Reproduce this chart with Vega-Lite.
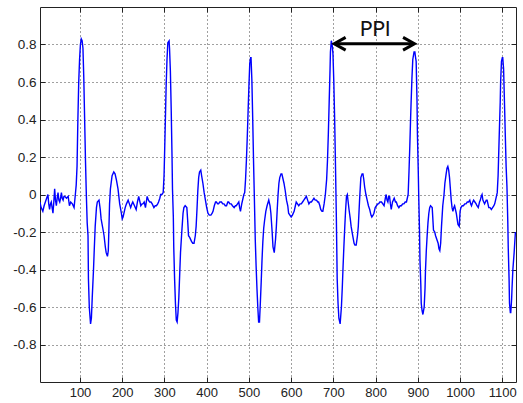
{
  "$schema": "https://vega.github.io/schema/vega-lite/v6.json",
  "width": 476,
  "height": 375,
  "autosize": {"type": "none"},
  "padding": {"left": 40, "top": 7, "right": 7, "bottom": 21},
  "background": "white",
  "config": {
    "view": {"stroke": "#222", "strokeWidth": 1},
    "axis": {"domain": false, "title": null, "tickColor": "#222", "tickSize": -5, "labelFont": "Liberation Sans", "labelFontSize": 13, "labelColor": "#222"}
  },
  "resolve": {"axis": {"x": "independent", "y": "independent"}},
  "layer": [
    {
      "data": {"values": [
        {"t":5,"v":-0.04},{"t":8,"v":-0.07},{"t":12,"v":-0.09},{"t":15,"v":-0.06},{"t":18,"v":-0.04},{"t":21,"v":-0.02},{"t":24,"v":0.0},{"t":26,"v":-0.05},{"t":28,"v":-0.08},{"t":30,"v":-0.05},{"t":32,"v":-0.04},{"t":34,"v":-0.07},{"t":36,"v":-0.1},{"t":38,"v":-0.04},{"t":40,"v":0.03},{"t":42,"v":-0.03},{"t":44,"v":-0.06},{"t":46,"v":-0.02},{"t":48,"v":0.01},{"t":50,"v":-0.03},{"t":52,"v":-0.04},{"t":54,"v":-0.02},{"t":56,"v":0.01},{"t":58,"v":-0.02},{"t":60,"v":-0.03},{"t":62,"v":-0.01},{"t":64,"v":-0.01},{"t":68,"v":-0.02},{"t":72,"v":-0.01},{"t":75,"v":-0.06},{"t":78,"v":-0.04},{"t":82,"v":-0.05},{"t":86,"v":-0.07},{"t":89,"v":0.0},{"t":91,"v":0.05},{"t":93,"v":0.15},{"t":95,"v":0.4},{"t":97,"v":0.6},{"t":99,"v":0.72},{"t":101,"v":0.8},{"t":103,"v":0.83},{"t":105,"v":0.82},{"t":107,"v":0.78},{"t":109,"v":0.62},{"t":111,"v":0.4},{"t":113,"v":0.18},{"t":115,"v":0.0},{"t":117,"v":-0.15},{"t":119,"v":-0.22},{"t":120,"v":-0.45},{"t":122,"v":-0.6},{"t":125,"v":-0.69},{"t":127,"v":-0.66},{"t":129,"v":-0.55},{"t":132,"v":-0.4},{"t":134,"v":-0.28},{"t":136,"v":-0.17},{"t":139,"v":-0.07},{"t":141,"v":-0.04},{"t":145,"v":-0.03},{"t":148,"v":-0.08},{"t":150,"v":-0.13},{"t":154,"v":-0.18},{"t":157,"v":-0.22},{"t":160,"v":-0.28},{"t":162,"v":-0.31},{"t":165,"v":-0.33},{"t":167,"v":-0.3},{"t":168,"v":-0.22},{"t":170,"v":-0.05},{"t":172,"v":0.03},{"t":176,"v":0.1},{"t":180,"v":0.12},{"t":183,"v":0.11},{"t":186,"v":0.08},{"t":190,"v":0.03},{"t":194,"v":-0.05},{"t":198,"v":-0.1},
        {"t":200,"v":-0.13},{"t":202,"v":-0.12},{"t":205,"v":-0.09},{"t":207,"v":-0.07},{"t":210,"v":-0.05},{"t":214,"v":-0.03},{"t":217,"v":-0.05},{"t":220,"v":-0.07},{"t":223,"v":-0.05},{"t":225,"v":-0.04},{"t":229,"v":-0.06},{"t":233,"v":-0.08},{"t":236,"v":-0.04},{"t":239,"v":-0.01},{"t":242,"v":-0.04},{"t":244,"v":-0.06},{"t":247,"v":-0.05},{"t":249,"v":-0.05},{"t":252,"v":-0.04},{"t":255,"v":-0.07},{"t":257,"v":-0.04},{"t":259,"v":-0.01},{"t":262,"v":-0.03},{"t":265,"v":-0.04},{"t":268,"v":-0.04},{"t":271,"v":-0.05},{"t":275,"v":-0.07},{"t":278,"v":-0.06},{"t":281,"v":-0.06},{"t":284,"v":-0.05},{"t":286,"v":-0.04},{"t":289,"v":-0.02},{"t":291,"v":0.0},{"t":294,"v":0.0},{"t":297,"v":0.01},{"t":299,"v":0.1},{"t":300,"v":0.19},{"t":302,"v":0.38},{"t":304,"v":0.58},{"t":306,"v":0.72},{"t":308,"v":0.81},{"t":311,"v":0.82},{"t":312,"v":0.78},{"t":314,"v":0.66},{"t":316,"v":0.45},{"t":318,"v":0.19},{"t":319,"v":0.03},{"t":321,"v":-0.12},{"t":322,"v":-0.28},{"t":324,"v":-0.45},{"t":326,"v":-0.58},{"t":328,"v":-0.67},{"t":330,"v":-0.68},{"t":332,"v":-0.63},{"t":334,"v":-0.55},{"t":336,"v":-0.43},{"t":338,"v":-0.31},{"t":341,"v":-0.2},{"t":344,"v":-0.1},{"t":346,"v":-0.07},{"t":349,"v":-0.06},{"t":353,"v":-0.07},{"t":355,"v":-0.14},{"t":357,"v":-0.22},{"t":360,"v":-0.23},{"t":364,"v":-0.25},{"t":367,"v":-0.26},{"t":370,"v":-0.26},{"t":373,"v":-0.22},{"t":375,"v":-0.17},{"t":377,"v":-0.08},{"t":379,"v":0.02},{"t":381,"v":0.09},{"t":383,"v":0.12},{"t":386,"v":0.13},{"t":388,"v":0.1},{"t":391,"v":0.06},{"t":394,"v":0.01},{"t":397,"v":-0.03},{"t":400,"v":-0.07},
        {"t":403,"v":-0.1},{"t":406,"v":-0.11},{"t":410,"v":-0.11},{"t":413,"v":-0.1},{"t":415,"v":-0.09},{"t":418,"v":-0.06},{"t":421,"v":-0.04},{"t":423,"v":-0.04},{"t":426,"v":-0.05},{"t":428,"v":-0.05},{"t":431,"v":-0.04},{"t":435,"v":-0.04},{"t":438,"v":-0.05},{"t":441,"v":-0.05},{"t":444,"v":-0.06},{"t":447,"v":-0.06},{"t":450,"v":-0.04},{"t":452,"v":-0.04},{"t":455,"v":-0.05},{"t":458,"v":-0.05},{"t":461,"v":-0.06},{"t":465,"v":-0.07},{"t":468,"v":-0.06},{"t":470,"v":-0.06},{"t":473,"v":-0.05},{"t":476,"v":-0.04},{"t":478,"v":-0.07},{"t":480,"v":-0.09},{"t":483,"v":-0.05},{"t":486,"v":-0.02},{"t":488,"v":0.0},{"t":490,"v":0.01},{"t":492,"v":0.08},{"t":494,"v":0.18},{"t":496,"v":0.3},{"t":498,"v":0.44},{"t":500,"v":0.58},{"t":502,"v":0.7},{"t":504,"v":0.73},{"t":505,"v":0.73},{"t":507,"v":0.61},{"t":509,"v":0.4},{"t":511,"v":0.17},{"t":513,"v":-0.03},{"t":515,"v":-0.24},{"t":517,"v":-0.38},{"t":519,"v":-0.5},{"t":521,"v":-0.6},{"t":523,"v":-0.68},{"t":525,"v":-0.68},{"t":527,"v":-0.58},{"t":529,"v":-0.47},{"t":531,"v":-0.35},{"t":533,"v":-0.25},{"t":535,"v":-0.18},{"t":537,"v":-0.14},{"t":540,"v":-0.09},{"t":543,"v":-0.06},{"t":547,"v":-0.03},{"t":550,"v":-0.06},{"t":552,"v":-0.1},{"t":555,"v":-0.2},{"t":557,"v":-0.28},{"t":560,"v":-0.31},{"t":563,"v":-0.24},{"t":565,"v":-0.17},{"t":567,"v":-0.08},{"t":569,"v":0.0},{"t":571,"v":0.06},{"t":573,"v":0.09},{"t":576,"v":0.11},{"t":578,"v":0.11},{"t":581,"v":0.08},{"t":583,"v":0.06},{"t":586,"v":0.02},{"t":589,"v":-0.03},{"t":592,"v":-0.06},{"t":594,"v":-0.1},{"t":597,"v":-0.11},{"t":600,"v":-0.12},
        {"t":603,"v":-0.11},{"t":607,"v":-0.09},{"t":610,"v":-0.06},{"t":612,"v":-0.04},{"t":615,"v":-0.05},{"t":618,"v":-0.06},{"t":621,"v":-0.05},{"t":624,"v":-0.05},{"t":627,"v":-0.04},{"t":630,"v":-0.03},{"t":633,"v":-0.02},{"t":636,"v":-0.01},{"t":639,"v":-0.03},{"t":642,"v":-0.05},{"t":645,"v":-0.04},{"t":648,"v":-0.04},{"t":651,"v":-0.03},{"t":654,"v":-0.02},{"t":657,"v":-0.03},{"t":660,"v":-0.03},{"t":663,"v":-0.04},{"t":665,"v":-0.04},{"t":668,"v":-0.06},{"t":670,"v":-0.08},{"t":673,"v":-0.09},{"t":675,"v":-0.09},{"t":678,"v":-0.05},{"t":681,"v":0.0},{"t":684,"v":0.08},{"t":686,"v":0.18},{"t":688,"v":0.32},{"t":690,"v":0.49},{"t":692,"v":0.66},{"t":693,"v":0.76},{"t":695,"v":0.82},{"t":697,"v":0.8},{"t":699,"v":0.75},{"t":701,"v":0.6},{"t":703,"v":0.4},{"t":705,"v":0.15},{"t":707,"v":-0.12},{"t":709,"v":-0.45},{"t":711,"v":-0.58},{"t":713,"v":-0.66},{"t":716,"v":-0.69},{"t":719,"v":-0.6},{"t":721,"v":-0.5},{"t":723,"v":-0.38},{"t":725,"v":-0.27},{"t":727,"v":-0.17},{"t":729,"v":-0.08},{"t":731,"v":-0.01},{"t":733,"v":0.0},{"t":735,"v":-0.04},{"t":737,"v":-0.08},{"t":740,"v":-0.13},{"t":742,"v":-0.17},{"t":745,"v":-0.21},{"t":749,"v":-0.26},{"t":751,"v":-0.27},{"t":754,"v":-0.27},{"t":757,"v":-0.22},{"t":759,"v":-0.17},{"t":762,"v":-0.03},{"t":765,"v":0.09},{"t":768,"v":0.11},{"t":770,"v":0.11},{"t":772,"v":0.08},{"t":774,"v":0.04},{"t":777,"v":0.0},{"t":780,"v":-0.03},{"t":783,"v":-0.06},{"t":786,"v":-0.08},{"t":789,"v":-0.11},{"t":791,"v":-0.12},{"t":794,"v":-0.11},{"t":796,"v":-0.1},{"t":799,"v":-0.07},
        {"t":802,"v":-0.06},{"t":805,"v":-0.05},{"t":807,"v":-0.05},{"t":810,"v":-0.04},{"t":814,"v":-0.04},{"t":817,"v":-0.05},{"t":820,"v":-0.06},{"t":823,"v":-0.02},{"t":825,"v":0.0},{"t":827,"v":-0.03},{"t":829,"v":-0.04},{"t":831,"v":-0.01},{"t":833,"v":-0.01},{"t":835,"v":-0.05},{"t":837,"v":-0.08},{"t":840,"v":-0.04},{"t":844,"v":-0.02},{"t":847,"v":-0.04},{"t":849,"v":-0.04},{"t":852,"v":-0.06},{"t":855,"v":-0.07},{"t":858,"v":-0.06},{"t":861,"v":-0.06},{"t":864,"v":-0.05},{"t":867,"v":-0.05},{"t":870,"v":-0.04},{"t":873,"v":-0.04},{"t":875,"v":-0.02},{"t":877,"v":0.0},{"t":879,"v":0.12},{"t":881,"v":0.26},{"t":883,"v":0.42},{"t":884,"v":0.49},{"t":886,"v":0.62},{"t":888,"v":0.72},{"t":891,"v":0.76},{"t":893,"v":0.76},{"t":894,"v":0.74},{"t":896,"v":0.71},{"t":898,"v":0.5},{"t":899,"v":0.32},{"t":901,"v":0.12},{"t":902,"v":0.0},{"t":904,"v":-0.2},{"t":905,"v":-0.35},{"t":907,"v":-0.48},{"t":908,"v":-0.58},{"t":910,"v":-0.62},{"t":912,"v":-0.64},{"t":915,"v":-0.6},{"t":917,"v":-0.5},{"t":918,"v":-0.41},{"t":920,"v":-0.3},{"t":922,"v":-0.22},{"t":924,"v":-0.15},{"t":926,"v":-0.1},{"t":928,"v":-0.07},{"t":930,"v":-0.06},{"t":934,"v":-0.07},{"t":937,"v":-0.19},{"t":940,"v":-0.2},{"t":942,"v":-0.22},{"t":945,"v":-0.24},{"t":948,"v":-0.26},{"t":950,"v":-0.29},{"t":952,"v":-0.3},{"t":954,"v":-0.26},{"t":956,"v":-0.17},{"t":959,"v":-0.06},{"t":962,"v":0.0},{"t":964,"v":0.06},{"t":967,"v":0.11},{"t":969,"v":0.14},{"t":971,"v":0.15},{"t":973,"v":0.13},{"t":975,"v":0.09},{"t":977,"v":0.03},{"t":979,"v":-0.03},{"t":981,"v":-0.07},{"t":983,"v":-0.09},{"t":985,"v":-0.07},{"t":987,"v":-0.06},{"t":989,"v":-0.08},{"t":991,"v":-0.1},{"t":993,"v":-0.13},{"t":995,"v":-0.16},{"t":998,"v":-0.17},
        {"t":1000,"v":-0.09},{"t":1002,"v":-0.07},{"t":1005,"v":-0.06},{"t":1008,"v":-0.06},{"t":1011,"v":-0.05},{"t":1014,"v":-0.05},{"t":1017,"v":-0.04},{"t":1020,"v":-0.04},{"t":1023,"v":-0.03},{"t":1025,"v":-0.05},{"t":1027,"v":-0.06},{"t":1030,"v":-0.04},{"t":1032,"v":-0.03},{"t":1035,"v":-0.04},{"t":1038,"v":-0.05},{"t":1040,"v":-0.06},{"t":1043,"v":-0.07},{"t":1046,"v":-0.04},{"t":1048,"v":-0.03},{"t":1050,"v":-0.01},{"t":1052,"v":0.0},{"t":1054,"v":-0.03},{"t":1056,"v":-0.04},{"t":1058,"v":-0.05},{"t":1060,"v":-0.04},{"t":1062,"v":-0.03},{"t":1064,"v":-0.03},{"t":1066,"v":-0.05},{"t":1068,"v":-0.07},{"t":1071,"v":-0.07},{"t":1074,"v":-0.08},{"t":1077,"v":-0.07},{"t":1080,"v":-0.06},{"t":1082,"v":-0.05},{"t":1084,"v":-0.03},{"t":1086,"v":-0.01},{"t":1088,"v":0.01},{"t":1090,"v":0.1},{"t":1091,"v":0.18},{"t":1093,"v":0.34},{"t":1095,"v":0.49},{"t":1096,"v":0.6},{"t":1098,"v":0.71},{"t":1100,"v":0.73},{"t":1101,"v":0.73},{"t":1103,"v":0.67},{"t":1105,"v":0.5},{"t":1107,"v":0.32},{"t":1109,"v":0.15},{"t":1111,"v":0.04},{"t":1113,"v":-0.15},{"t":1114,"v":-0.28},{"t":1116,"v":-0.45},{"t":1117,"v":-0.58},{"t":1119,"v":-0.63},{"t":1120,"v":-0.63},{"t":1122,"v":-0.56},{"t":1123,"v":-0.5},{"t":1125,"v":-0.4},{"t":1128,"v":-0.31},{"t":1131,"v":-0.2}
      ]},
      "mark": {"type": "line", "color": "#0000ff", "strokeWidth": 1.4, "clip": true},
      "encoding": {
        "x": {"field": "t", "type": "quantitative", "scale": {"domain": [5.3, 1132.4], "nice": false, "zero": false},
          "axis": {"orient": "bottom", "values": [100,200,300,400,500,600,700,800,900,1000,1100], "labelExpr": "'' + datum.value", "grid": true, "gridColor": "#000", "gridOpacity": 0.75, "gridDash": [1,3], "labelPadding": 9, "labelFontSize": 13}},
        "y": {"field": "v", "type": "quantitative", "scale": {"domain": [-1, 1], "nice": false},
          "axis": {"orient": "left", "values": [-0.8,-0.6,-0.4,-0.2,0,0.2,0.4,0.6,0.8], "labelExpr": "'' + datum.value", "grid": true, "gridColor": "#000", "gridOpacity": 0.75, "gridDash": [1,3], "labelPadding": 9, "labelFontSize": 13.5}}
      }
    },
    {
      "data": {"values": [{"a": 703, "b": 890, "y": 0.804}]},
      "mark": {"type": "rule", "color": "#000", "strokeWidth": 3},
      "encoding": {
        "x": {"field": "a", "type": "quantitative", "axis": {"orient": "top", "values": [100,200,300,400,500,600,700,800,900,1000,1100], "labels": false, "grid": false}},
        "x2": {"field": "b"},
        "y": {"field": "y", "type": "quantitative", "axis": {"orient": "right", "values": [-0.8,-0.6,-0.4,-0.2,0,0.2,0.4,0.6,0.8], "labels": false, "grid": false}}
      }
    },
    {
      "data": {"values": [
        {"h": "L", "o": 1, "x": 729, "y": 0.838}, {"h": "L", "o": 2, "x": 702, "y": 0.804}, {"h": "L", "o": 3, "x": 729, "y": 0.770},
        {"h": "R", "o": 1, "x": 865, "y": 0.838}, {"h": "R", "o": 2, "x": 892, "y": 0.804}, {"h": "R", "o": 3, "x": 865, "y": 0.770}
      ]},
      "mark": {"type": "line", "color": "#000", "strokeWidth": 3, "strokeJoin": "miter"},
      "encoding": {
        "x": {"field": "x", "type": "quantitative", "axis": null},
        "y": {"field": "y", "type": "quantitative", "axis": null},
        "detail": {"field": "h"},
        "order": {"field": "o", "type": "quantitative"}
      }
    },
    {
      "data": {"values": [{"x": 799, "y": 0.848, "label": "PPI"}]},
      "mark": {"type": "text", "font": "Lato", "fontSize": 21, "color": "#111", "baseline": "alphabetic", "align": "center"},
      "encoding": {
        "x": {"field": "x", "type": "quantitative", "axis": null},
        "y": {"field": "y", "type": "quantitative", "axis": null},
        "text": {"field": "label"}
      }
    }
  ]
}
